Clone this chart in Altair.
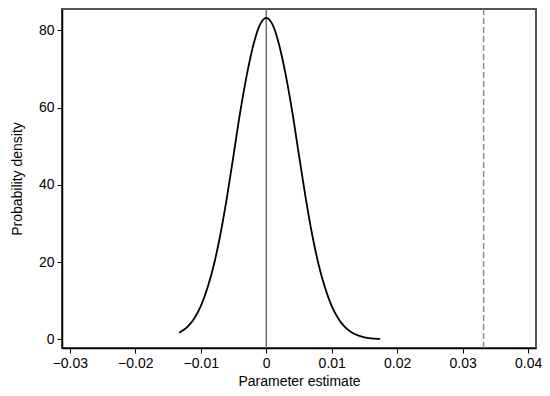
import altair as alt
import pandas as pd

# Density curve
curve_x = [-0.0133, -0.013, -0.012, -0.011, -0.010, -0.009, -0.008, -0.007, -0.006, -0.005,
           -0.004, -0.003, -0.002, -0.001, 0.0, 0.001, 0.002, 0.003, 0.004, 0.005,
           0.006, 0.007, 0.008, 0.009, 0.010, 0.011, 0.012, 0.013, 0.014, 0.015,
           0.016, 0.017, 0.0174]
curve_y = [1.7, 2.0, 3.3, 5.4, 8.6, 13.2, 19.3, 27.2, 36.8, 47.6,
           58.6, 68.2, 76.0, 81.3, 83.2, 81.3, 76.0, 68.2, 58.6, 47.6,
           36.8, 27.2, 19.3, 13.2, 8.6, 5.4, 3.2, 1.8, 1.0, 0.5,
           0.25, 0.12, 0.1]

ref_line = [0.0]
dashed_line = [0.0332]

x_ticks = [-0.03, -0.02, -0.01, 0, 0.01, 0.02, 0.03, 0.04]
y_ticks = [0, 20, 40, 60, 80]

df = pd.DataFrame({"x": curve_x, "y": curve_y})

x_scale = alt.Scale(domain=[-0.0312, 0.0412], nice=False, zero=False)
y_scale = alt.Scale(domain=[-2.25, 85.5], nice=False, zero=False)

font = "Liberation Sans"

x_axis = alt.Axis(values=x_ticks, title="Parameter estimate", grid=False,
                  labelExpr="datum.value == 0 ? '0' : format(datum.value, '.2f')",
                  tickSize=5, tickColor="black", domainColor="black", domainWidth=1.5,
                  labelFontSize=14, titleFontSize=14, titleFontWeight="normal",
                  labelColor="black", titleColor="black", labelFont=font, titleFont=font,
                  labelPadding=3, titlePadding=4, labelFlush=False)
y_axis = alt.Axis(values=y_ticks, title="Probability density", grid=False,
                  tickSize=5, tickColor="black", domainColor="black", domainWidth=1.5,
                  labelFontSize=14, titleFontSize=14, titleFontWeight="normal",
                  labelColor="black", titleColor="black", labelFont=font, titleFont=font,
                  labelPadding=3, titlePadding=14, labelFlush=False)

line = alt.Chart(df).mark_line(color="black", strokeWidth=1.8, interpolate="monotone").encode(
    x=alt.X("x:Q", scale=x_scale, axis=x_axis),
    y=alt.Y("y:Q", scale=y_scale, axis=y_axis),
)

zero = alt.Chart(pd.DataFrame({"x": ref_line})).mark_rule(color="#707070", strokeWidth=1.5).encode(
    x=alt.X("x:Q", scale=x_scale)
)

dash = alt.Chart(pd.DataFrame({"x": dashed_line})).mark_rule(
    color="#8a8a8a", strokeWidth=1.5, strokeDash=[6, 3]).encode(
    x=alt.X("x:Q", scale=x_scale)
)

chart = (zero + dash + line).properties(
    width=474, height=339,
    background="white",
    autosize=alt.AutoSizeParams(type="none"),
    padding={"left": 54, "top": 1, "right": 6, "bottom": 40},
).configure_view(stroke="#555555", strokeWidth=2)

chart.save("out.html", embed_options={"renderer": "svg", "actions": False})
